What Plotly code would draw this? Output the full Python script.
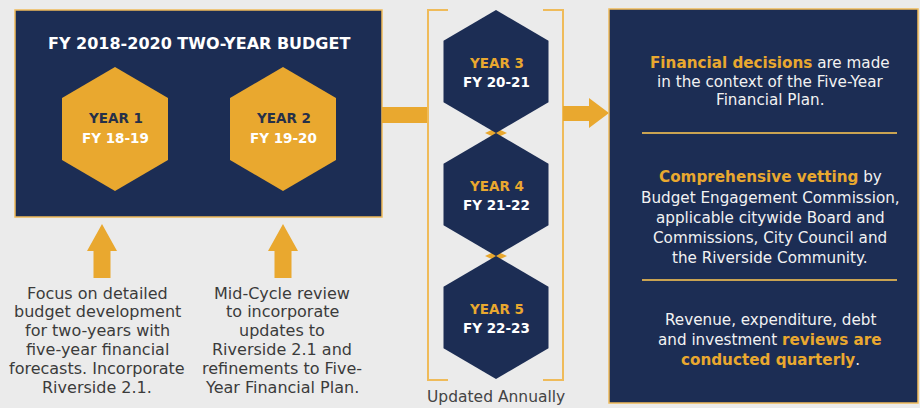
import plotly.graph_objects as go

# ---------------- content ----------------
title = "FY 2018-2020 TWO-YEAR BUDGET"
budget_years = ["YEAR 1", "YEAR 2"]
budget_fy = ["FY 18-19", "FY 19-20"]
plan_years = ["YEAR 3", "YEAR 4", "YEAR 5"]
plan_fy = ["FY 20-21", "FY 21-22", "FY 22-23"]
bracket_label = "Updated Annually"
notes_year1 = ["Focus on detailed", "budget development", "for two-years with",
               "five-year financial", "forecasts. Incorporate", "Riverside 2.1."]
notes_year2 = ["Mid-Cycle review", "to incorporate", "updates to",
               "Riverside 2.1 and", "refinements to Five-", "Year Financial Plan."]
# (highlighted part, plain part) per line; highlight drawn gold+bold
right_block1 = [("Financial decisions", " are made"), ("", "in the context of the Five-Year"),
                ("", "Financial Plan.")]
right_block2 = [("Comprehensive vetting", " by"), ("", "Budget Engagement Commission,"),
                ("", "applicable citywide Board and"), ("", "Commissions, City Council and"),
                ("", "the Riverside Community.")]
right_block3 = [("", "Revenue, expenditure, debt"), ("reviews are", "and investment |"),
                ("conducted quarterly", "|.")]

# ---------------- style / layout ----------------
W, H = 920, 408
BG = "#ebebeb"
NAVY = "#1c2d54"
GOLD = "#e9a82f"
GOLD_LINE = "#efbb5a"
DARK = "#3b3b3b"
FONT = "DejaVu Sans"

shapes = []
ann = []


def hex_path(cx, cy, hw, hh):
    pts = [(cx, cy - hh), (cx + hw, cy - hh / 2), (cx + hw, cy + hh / 2),
           (cx, cy + hh), (cx - hw, cy + hh / 2), (cx - hw, cy - hh / 2)]
    return "M " + " L ".join(f"{x},{y}" for x, y in pts) + " Z"


def poly(pts):
    return "M " + " L ".join(f"{x},{y}" for x, y in pts) + " Z"


def text(x, y, s, size, color, bold=False, xanchor="center"):
    if bold:
        s = f"<b>{s}</b>"
    ann.append(dict(x=x, y=y, xref="x", yref="y", text=s, showarrow=False,
                    xanchor=xanchor, yanchor="middle",
                    font=dict(family=FONT, size=size, color=color)))


# left navy box
shapes.append(dict(type="rect", x0=15, y0=10, x1=382, y1=217, fillcolor=NAVY,
                   line=dict(color=GOLD_LINE, width=1.5)))
text(198.5, 43, title, 16, "white", bold=True)

left_cx = [115, 283]
for cx, yr, fy in zip(left_cx, budget_years, budget_fy):
    shapes.append(dict(type="path", path=hex_path(cx, 129, 53, 62), fillcolor=GOLD,
                       line=dict(width=0)))
    text(cx, 118, yr, 13.5, "#263049", bold=True)
    text(cx, 138, fy, 13.5, "white", bold=True)

# connector bar from left box to bracket
shapes.append(dict(type="rect", x0=382, y0=107, x1=428, y1=123, fillcolor=GOLD,
                   line=dict(width=0)))

# bracket
for x_edge, x_tick in [(428, 448), (563, 543)]:
    shapes.append(dict(type="path",
                       path=f"M {x_tick},10 L {x_edge},10 L {x_edge},380 L {x_tick},380",
                       line=dict(color=GOLD_LINE, width=2)))

# junction accents behind hexes
mid_cx = 496
mid_cy = [71.5, 194.5, 317.5]
for jy in [133, 256]:
    shapes.append(dict(type="path", path=poly([(mid_cx - 11, jy), (mid_cx, jy - 5),
                                               (mid_cx + 11, jy), (mid_cx, jy + 5)]),
                       fillcolor=GOLD, line=dict(width=0)))
for cy, yr, fy in zip(mid_cy, plan_years, plan_fy):
    shapes.append(dict(type="path", path=hex_path(mid_cx, cy, 52.5, 61.5), fillcolor=NAVY,
                       line=dict(width=0)))
    text(mid_cx, cy - 9, yr, 13.5, GOLD, bold=True)
    text(mid_cx, cy + 10.5, fy, 13.5, "white", bold=True)

text(mid_cx, 397, bracket_label, 15.5, "#444444")

# right arrow
shapes.append(dict(type="path",
                   path=poly([(563, 106), (589, 106), (589, 98), (609, 113),
                              (589, 128), (589, 121), (563, 121)]),
                   fillcolor=GOLD, line=dict(width=0)))

# right navy box
shapes.append(dict(type="rect", x0=609, y0=9, x1=918, y1=403, fillcolor=NAVY,
                   line=dict(color=GOLD_LINE, width=1.5)))
for sy in [133, 280]:
    shapes.append(dict(type="line", x0=642, x1=897, y0=sy, y1=sy,
                       line=dict(color="#c9a352", width=2)))


def rich(hl, plain):
    hl_html = f"<span style='color:{GOLD}'><b>{hl}</b></span>" if hl else ""
    if "|" in plain:
        return plain.replace("|", hl_html)
    return hl_html + plain


RX = 770
for block, ys in [(right_block1, [63, 82, 100]),
                  (right_block2, [177, 198, 218, 238, 258]),
                  (right_block3, [320, 340, 360])]:
    for (hl, plain), y in zip(block, ys):
        text(RX, y, rich(hl, plain), 15.2, "#f2f2f2")

# up arrows and notes
for ax, tx, lines in [(102, 97, notes_year1), (283, 282, notes_year2)]:
    shapes.append(dict(type="path",
                       path=poly([(ax, 224), (ax + 15, 251), (ax + 8.5, 251), (ax + 8.5, 278),
                                  (ax - 8.5, 278), (ax - 8.5, 251), (ax - 15, 251)]),
                       fillcolor=GOLD, line=dict(width=0)))
    for i, s in enumerate(lines):
        text(tx, 293 + i * 18.8, s, 16, DARK)

fig = go.Figure()
fig.add_trace(go.Scatter(x=[None], y=[None], showlegend=False, hoverinfo="skip"))
fig.update_layout(
    width=W, height=H, margin=dict(l=0, r=0, t=0, b=0),
    paper_bgcolor=BG, plot_bgcolor=BG,
    xaxis=dict(range=[0, W], visible=False, fixedrange=True),
    yaxis=dict(range=[H, 0], visible=False, fixedrange=True),
    shapes=shapes, annotations=ann, showlegend=False,
)
fig.write_html("out.html", config={"displayModeBar": False})

# remove the browser's default page margin so the figure sits at (0, 0)
with open("out.html", encoding="utf-8") as f:
    html = f.read()
html = html.replace("<head>", "<head><style>html,body{margin:0;padding:0;overflow:hidden;"
                    f"background:{BG};}}</style>", 1)
with open("out.html", "w", encoding="utf-8") as f:
    f.write(html)
